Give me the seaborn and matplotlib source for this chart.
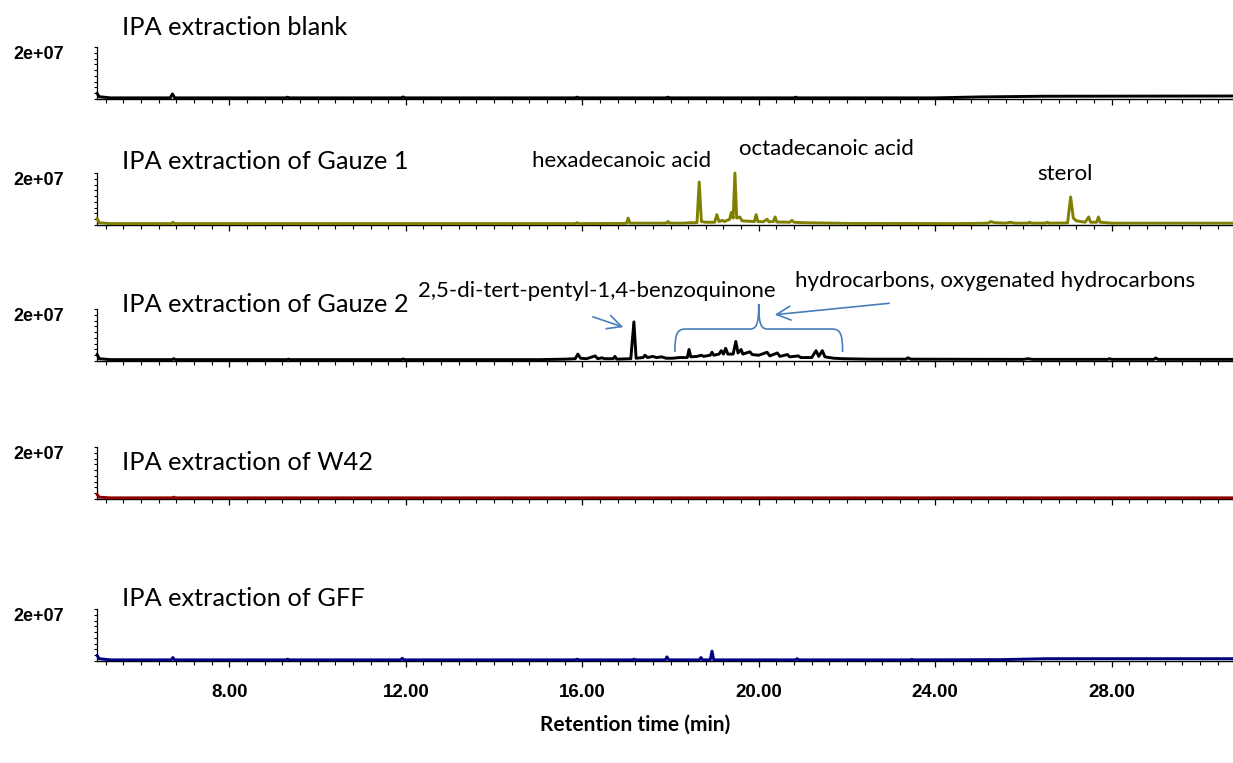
import matplotlib
matplotlib.use("Agg")
import matplotlib.pyplot as plt
import seaborn as sns
import pandas as pd
from matplotlib.ticker import MultipleLocator, FixedLocator
from matplotlib.path import Path
from matplotlib.patches import PathPatch

# ---------------- data (retention time in min, abundance) ----------------
blank_t = [5.0, 5.05, 5.3, 6.66, 6.71, 6.76, 9.28, 9.32, 9.36, 11.9, 11.94, 11.98,
           15.84, 15.88, 15.92, 17.9, 17.94, 17.98, 20.8, 20.84, 20.88, 24.0, 25.0, 26.5, 30.75]
blank_y = [0.25e7, 0.1e7, 0.05e7, 0.05e7, 0.22e7, 0.05e7, 0.05e7, 0.08e7, 0.05e7, 0.05e7, 0.09e7, 0.05e7,
           0.05e7, 0.08e7, 0.05e7, 0.05e7, 0.08e7, 0.05e7, 0.05e7, 0.08e7, 0.05e7, 0.05e7, 0.09e7, 0.12e7, 0.13e7]

gauze1_t = [5.0, 5.05, 5.3, 6.68, 6.72, 6.76, 15.84, 15.88, 15.92, 17.0, 17.04, 17.08, 17.9, 17.94, 17.98,
            18.3, 18.45, 18.6, 18.65, 18.7, 18.8, 19.0, 19.05, 19.1, 19.18, 19.22, 19.34, 19.38, 19.42,
            19.46, 19.5, 19.57, 19.62, 19.9, 19.94, 19.98, 20.1, 20.19, 20.23, 20.33, 20.37, 20.41,
            20.7, 20.75, 20.8, 21.0, 22.0, 24.5, 25.2, 25.26, 25.35, 25.6, 25.7, 25.8, 26.1, 26.14, 26.18,
            26.5, 26.54, 26.58, 27.0, 27.07, 27.13, 27.2, 27.3, 27.4, 27.48, 27.52, 27.66, 27.7, 27.74,
            28.0, 30.75]
gauze1_y = [0.3e7, 0.1e7, 0.06e7, 0.06e7, 0.12e7, 0.06e7, 0.06e7, 0.1e7, 0.06e7, 0.07e7, 0.3e7, 0.08e7, 0.08e7, 0.15e7, 0.08e7,
            0.08e7, 0.1e7, 0.1e7, 1.87e7, 0.15e7, 0.12e7, 0.12e7, 0.45e7, 0.15e7, 0.2e7, 0.15e7, 0.25e7, 0.55e7, 0.3e7,
            2.26e7, 0.3e7, 0.35e7, 0.18e7, 0.15e7, 0.45e7, 0.15e7, 0.14e7, 0.25e7, 0.14e7, 0.15e7, 0.35e7, 0.13e7,
            0.12e7, 0.2e7, 0.12e7, 0.1e7, 0.07e7, 0.06e7, 0.08e7, 0.15e7, 0.1e7, 0.08e7, 0.12e7, 0.08e7, 0.08e7, 0.12e7, 0.08e7,
            0.08e7, 0.12e7, 0.08e7, 0.09e7, 1.22e7, 0.3e7, 0.18e7, 0.15e7, 0.12e7, 0.35e7, 0.12e7, 0.12e7, 0.35e7, 0.12e7,
            0.08e7, 0.08e7]

gauze2_t = [5.0, 5.05, 5.3, 6.7, 6.74, 6.78, 9.3, 9.34, 9.38, 11.9, 11.94, 11.98, 15.0, 15.6, 15.84, 15.9, 15.96,
            16.1, 16.29, 16.35, 16.45, 16.5, 16.7, 16.74, 16.78, 17.1, 17.17, 17.22, 17.38, 17.42, 17.48, 17.6,
            17.68, 17.8, 17.9, 18.05, 18.2, 18.38, 18.42, 18.46, 18.6, 18.7, 18.75, 18.9, 18.94, 18.98, 19.1,
            19.15, 19.2, 19.25, 19.3, 19.42, 19.48, 19.53, 19.6, 19.64, 19.8, 19.85, 20.0, 20.19, 20.25, 20.42,
            20.48, 20.65, 20.7, 20.9, 20.95, 21.2, 21.3, 21.36, 21.44, 21.5, 21.7, 21.9, 22.5, 23.34, 23.38,
            23.45, 26.0, 26.1, 26.2, 27.9, 27.95, 28.0, 28.95, 29.0, 29.05, 30.75]
gauze2_y = [0.3e7, 0.1e7, 0.06e7, 0.06e7, 0.1e7, 0.06e7, 0.06e7, 0.08e7, 0.06e7, 0.06e7, 0.09e7, 0.06e7, 0.06e7, 0.08e7, 0.1e7, 0.3e7, 0.12e7,
            0.1e7, 0.22e7, 0.1e7, 0.14e7, 0.1e7, 0.1e7, 0.2e7, 0.08e7, 0.1e7, 1.7e7, 0.12e7, 0.15e7, 0.25e7, 0.15e7, 0.2e7,
            0.15e7, 0.18e7, 0.12e7, 0.12e7, 0.15e7, 0.15e7, 0.5e7, 0.18e7, 0.2e7, 0.25e7, 0.2e7, 0.25e7, 0.38e7, 0.25e7, 0.3e7,
            0.45e7, 0.3e7, 0.55e7, 0.3e7, 0.3e7, 0.85e7, 0.35e7, 0.5e7, 0.3e7, 0.4e7, 0.28e7, 0.25e7, 0.38e7, 0.22e7, 0.35e7,
            0.2e7, 0.28e7, 0.18e7, 0.22e7, 0.15e7, 0.15e7, 0.45e7, 0.2e7, 0.45e7, 0.18e7, 0.12e7, 0.1e7, 0.08e7, 0.08e7, 0.14e7,
            0.08e7, 0.07e7, 0.1e7, 0.07e7, 0.07e7, 0.1e7, 0.07e7, 0.07e7, 0.13e7, 0.07e7, 0.07e7]

w42_t = [5.0, 5.05, 5.3, 6.7, 6.74, 6.78, 30.75]
w42_y = [0.2e7, 0.08e7, 0.05e7, 0.05e7, 0.08e7, 0.05e7, 0.05e7]

gff_t = [5.0, 5.05, 5.3, 6.68, 6.72, 6.76, 9.28, 9.32, 9.36, 11.88, 11.92, 11.96, 15.84, 15.88, 15.92,
         17.13, 17.17, 17.21, 17.88, 17.92, 17.96, 18.65, 18.69, 18.73, 18.9, 18.94, 18.98, 20.83, 20.87, 20.91,
         23.43, 23.47, 23.51, 25.5, 26.5, 30.75]
gff_y = [0.25e7, 0.1e7, 0.05e7, 0.05e7, 0.15e7, 0.05e7, 0.05e7, 0.08e7, 0.05e7, 0.05e7, 0.12e7, 0.05e7, 0.05e7, 0.08e7, 0.05e7,
         0.05e7, 0.08e7, 0.05e7, 0.05e7, 0.18e7, 0.05e7, 0.05e7, 0.15e7, 0.05e7, 0.05e7, 0.43e7, 0.05e7, 0.05e7, 0.1e7, 0.05e7,
         0.05e7, 0.07e7, 0.05e7, 0.06e7, 0.1e7, 0.1e7]

titles = ["IPA extraction blank", "IPA extraction of Gauze 1", "IPA extraction of Gauze 2",
          "IPA extraction of W42", "IPA extraction of GFF"]
colors = ["#000000", "#808000", "#000000", "#8B0000", "#000080"]
x_tick_values = [8, 12, 16, 20, 24, 28]
x_tick_labels = ["8.00", "12.00", "16.00", "20.00", "24.00", "28.00"]
y_label_value = 2e7
y_label_text = "2e+07"
x_label = "Retention time (min)"

series = [(blank_t, blank_y), (gauze1_t, gauze1_y), (gauze2_t, gauze2_y), (w42_t, w42_y), (gff_t, gff_y)]

# ---------------- layout ----------------
sns.set_style("ticks")
plt.rcParams["font.family"] = ["Lato", "DejaVu Sans"]
plt.rcParams["text.color"] = "black"
plt.rcParams["xtick.color"] = "black"
plt.rcParams["ytick.color"] = "black"
plt.rcParams["axes.edgecolor"] = "black"

W, H = 1233, 763
fig = plt.figure(figsize=(W / 100, H / 100), dpi=100)

def fx(px):
    return px / W

def fy(py):
    return 1 - py / H

left_px, right_px = 97, 1233
panel_bottom_px = [99, 225, 361, 499, 661]
panel_h_px = 52
title_base_px = [35, 169, 312, 470, 606]
XMIN, XMAX = 5.0, 30.75
YMIN, YMAX = 0.0, 2.26e7

axes = []
for i, (t, y) in enumerate(series):
    ax = fig.add_axes([fx(left_px), fy(panel_bottom_px[i]), fx(right_px - left_px), panel_h_px / H])
    df = pd.DataFrame({"t": t, "y": y})
    sns.lineplot(data=df, x="t", y="y", ax=ax, color=colors[i], lw=2.1, sort=False,
                 estimator=None, clip_on=False, zorder=5)
    ax.set_xlim(XMIN, XMAX)
    ax.set_ylim(YMIN, YMAX)
    sns.despine(ax=ax)
    ax.spines["left"].set_linewidth(0.9)
    ax.spines["bottom"].set_linewidth(1.0)
    ax.set_xlabel("")
    ax.set_ylabel("")
    ax.yaxis.set_major_locator(FixedLocator([y_label_value]))
    ax.set_yticklabels([y_label_text])
    ax.yaxis.set_minor_locator(MultipleLocator(0.25e7))
    ax.tick_params(axis="y", which="both", length=2.2, width=0.8, direction="out", pad=21.5)
    ax.tick_params(axis="y", labelsize=13)
    for lab in ax.get_yticklabels():
        lab.set_fontweight("bold")
        lab.set_fontfamily(["Liberation Sans", "DejaVu Sans"])
    ax.xaxis.set_major_locator(FixedLocator(x_tick_values))
    ax.xaxis.set_minor_locator(MultipleLocator(0.4))
    ax.tick_params(axis="x", which="major", length=4.5, width=0.9, direction="out", pad=12)
    ax.tick_params(axis="x", which="minor", length=2.6, width=0.8, direction="out")
    if i == len(series) - 1:
        ax.set_xticklabels(x_tick_labels)
        ax.tick_params(axis="x", labelsize=13.5)
        for lab in ax.get_xticklabels():
            lab.set_fontweight("bold")
            lab.set_fontfamily(["Liberation Sans", "DejaVu Sans"])
    else:
        ax.set_xticklabels([])
    ax.patch.set_alpha(0)
    fig.text(fx(122), fy(title_base_px[i]), titles[i], fontsize=18.3, va="baseline", ha="left")
    axes.append(ax)

fig.text(fx(635), fy(725), x_label, fontsize=15, fontweight="bold", ha="center", va="center")

# ---------------- annotations ----------------
ann_fs = 16
fig.text(fx(622), fy(167), "hexadecanoic acid", fontsize=ann_fs, ha="center", va="baseline")
fig.text(fx(826), fy(155), "octadecanoic acid", fontsize=ann_fs, ha="center", va="baseline")
fig.text(fx(1065), fy(180), "sterol", fontsize=ann_fs, ha="center", va="baseline")
fig.text(fx(597), fy(297), "2,5-di-tert-pentyl-1,4-benzoquinone", fontsize=ann_fs, ha="center", va="baseline")
fig.text(fx(995), fy(287), "hydrocarbons, oxygenated hydrocarbons", fontsize=ann_fs, ha="center", va="baseline")

blue = "#4A7EBB"
ax3 = axes[2]
arrow_style = "->,head_length=1.0,head_width=0.5"
ax3.annotate("", xy=(16.99, 1.43e7), xytext=(16.18, 1.96e7), xycoords="data", textcoords="data",
             arrowprops=dict(arrowstyle=arrow_style, color=blue, lw=1.2),
             annotation_clip=False, zorder=6)
ax3.annotate("", xy=(20.3, 2.0e7), xytext=(23.02, 2.52e7), xycoords="data", textcoords="data",
             arrowprops=dict(arrowstyle=arrow_style, color=blue, lw=1.2),
             annotation_clip=False, zorder=6)

brace_verts = [(18.1, 0.39e7), (18.1, 1.2e7), (18.15, 1.39e7), (18.35, 1.39e7),
               (19.8, 1.39e7),
               (19.95, 1.39e7), (20.0, 1.6e7), (20.0, 2.48e7),
               (20.0, 1.6e7), (20.05, 1.39e7), (20.2, 1.39e7),
               (21.65, 1.39e7),
               (21.85, 1.39e7), (21.9, 1.2e7), (21.9, 0.39e7)]
brace_codes = [Path.MOVETO, Path.CURVE4, Path.CURVE4, Path.CURVE4,
               Path.LINETO,
               Path.CURVE4, Path.CURVE4, Path.CURVE4,
               Path.CURVE4, Path.CURVE4, Path.CURVE4,
               Path.LINETO,
               Path.CURVE4, Path.CURVE4, Path.CURVE4]
ax3.add_patch(PathPatch(Path(brace_verts, brace_codes), fill=False, edgecolor=blue, lw=1.2,
                        clip_on=False, zorder=6))

fig.savefig("out.png", dpi=100)
